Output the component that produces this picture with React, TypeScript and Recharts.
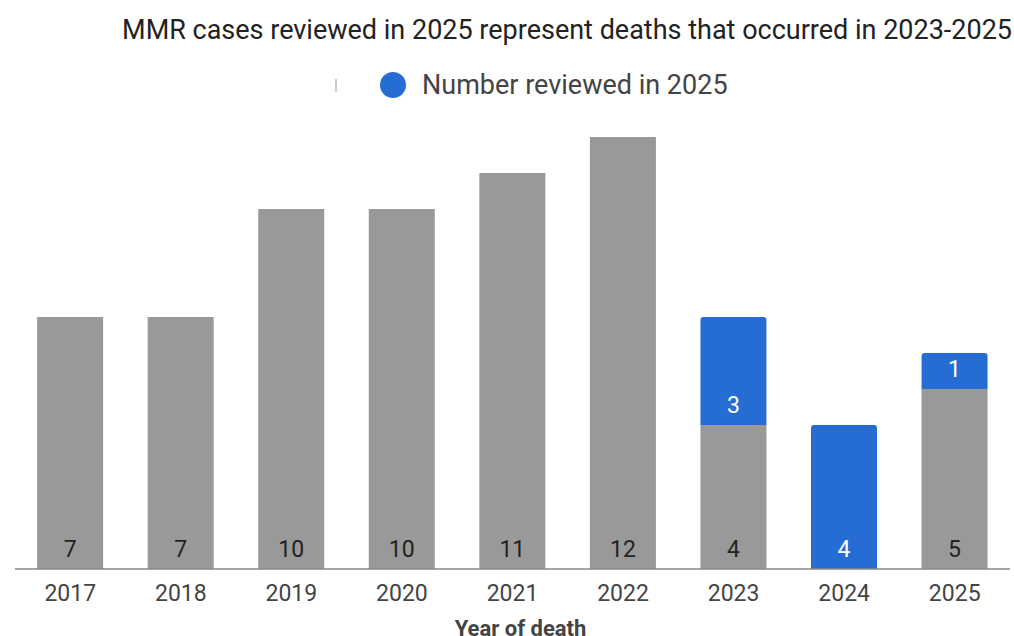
import React from "react";
import { BarChart, Bar, XAxis, YAxis, Legend, LabelList } from "recharts";

const years = ["2017", "2018", "2019", "2020", "2021", "2022", "2023", "2024", "2025"];
const otherCases = [7, 7, 10, 10, 11, 12, 4, 0, 5];
const reviewed2025 = [0, 0, 0, 0, 0, 0, 3, 4, 1];

const data = years.map((year, i) => ({
    year,
    other: otherCases[i],
    reviewed: reviewed2025[i],
}));

const FONT = "Roboto, 'Noto Sans', sans-serif";
const GRAY = "#999999";
const BLUE = "#266dd3";

const renderLegend = () => (
    <div style={{ display: "flex", alignItems: "center", height: 30, fontFamily: FONT, fontSize: 27, color: "#444" }}>
        <span style={{ display: "inline-block", width: 2, height: 13, background: "#ccc", marginLeft: 335, marginRight: 43 }} />
        <span style={{ display: "inline-block", width: 26, height: 26, borderRadius: "50%", background: BLUE, marginRight: 16 }} />
        <span>Number reviewed in 2025</span>
    </div>
);

const hideZero = (v: any) => (v ? v : "");

const XTick = (props: any) => {
    const { x, y, payload } = props;
    return (
        <text x={x} y={y + 24} textAnchor="middle" fontFamily={FONT} fontSize={23} fill="#444">
            {payload.value}
        </text>
    );
};

const App: React.FC = () => {
    return (
        <div style={{ position: "absolute", left: 0, top: 0, width: 1014, height: 636, background: "#fff", overflow: "hidden" }}>
            <div
                style={{
                    position: "absolute",
                    right: 2,
                    top: 12,
                    fontFamily: FONT,
                    fontSize: 27,
                    lineHeight: "36px",
                    color: "#222",
                    whiteSpace: "nowrap",
                }}
            >
                MMR cases reviewed in 2025 represent deaths that occurred in 2023-2025
            </div>
            <BarChart width={1014} height={636} data={data} margin={{ top: 107, right: 4, left: 15, bottom: 37 }} barCategoryGap="20%">
                <YAxis hide domain={[0, 12]} />
                <XAxis
                    dataKey="year"
                    axisLine={{ stroke: "#888", strokeWidth: 1.5 }}
                    tickLine={false}
                    tick={<XTick />}
                    height={30}
                    label={{
                        value: "Year of death",
                        position: "insideBottom",
                        offset: -37,
                        dx: 8,
                        style: { fontFamily: FONT, fontSize: 22, fontWeight: 700, fill: "#444" },
                    }}
                />
                <Legend verticalAlign="top" align="left" content={renderLegend} wrapperStyle={{ top: 70, left: 0, width: 1014, height: 30 }} />
                <Bar dataKey="other" stackId="a" fill={GRAY} isAnimationActive={false}>
                    <LabelList dataKey="other" position="insideBottom" offset={12} formatter={hideZero} style={{ fontFamily: FONT, fontSize: 23, fill: "#222" }} />
                </Bar>
                <Bar dataKey="reviewed" stackId="a" fill={BLUE} radius={[3, 3, 0, 0]} isAnimationActive={false}>
                    <LabelList dataKey="reviewed" position="insideBottom" offset={12} formatter={hideZero} style={{ fontFamily: FONT, fontSize: 23, fill: "#fff" }} />
                </Bar>
            </BarChart>
        </div>
    );
};

export default App;
